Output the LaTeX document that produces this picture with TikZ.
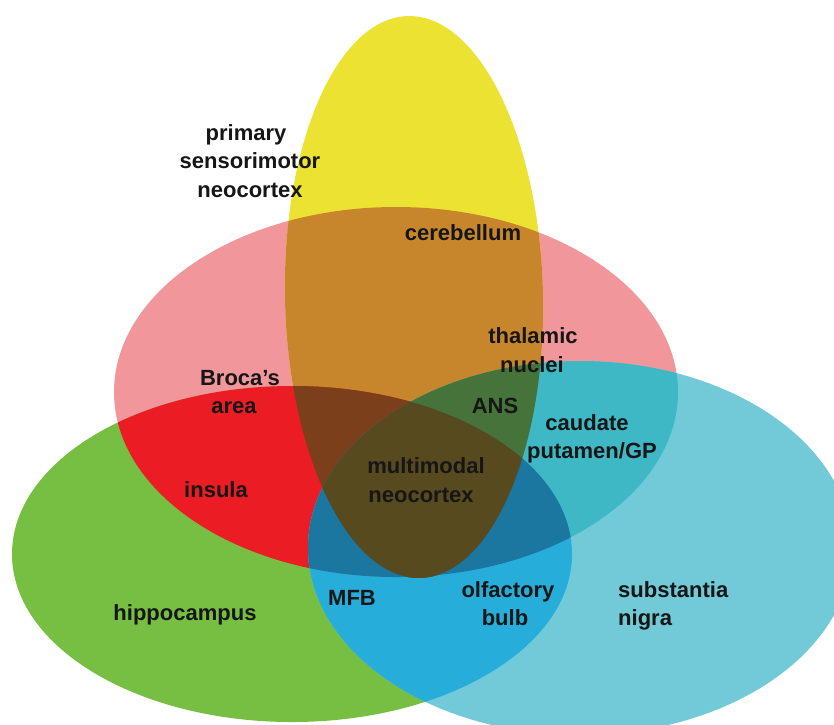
\documentclass[tikz,border=0pt]{standalone}
\usepackage{fontspec}
\setmainfont{Liberation Sans}
\definecolor{cY}{HTML}{ECE232}
\definecolor{cP}{HTML}{F1979C}
\definecolor{cG}{HTML}{77BF43}
\definecolor{cC}{HTML}{72CAD8}
\definecolor{cYP}{HTML}{C8862C}
\definecolor{cPG}{HTML}{EC1C24}
\definecolor{cPC}{HTML}{3FB8C6}
\definecolor{cGC}{HTML}{27ADDA}
\definecolor{cYPG}{HTML}{7C3F1B}
\definecolor{cYPC}{HTML}{46733A}
\definecolor{cPGC}{HTML}{1B76A0}
\definecolor{cAll}{HTML}{574A1E}
\definecolor{txt}{HTML}{161616}
\begin{document}
\begin{tikzpicture}[x=1pt,y=-1pt,
  yrot/.style={rotate around={1.2:(414,297)}},
  lbl/.style={font=\fontsize{22}{26}\selectfont\bfseries, text=txt, inner sep=0pt, anchor=base},
  lblw/.style={lbl, anchor=base west}]
\clip (0,0) rectangle (834,724);
\fill[white] (0,0) rectangle (834,724);
% single sets
\fill[cP] (396,392) ellipse [x radius=282, y radius=185];
\fill[cG] (292,554) ellipse [x radius=280, y radius=168];
\fill[cC] (580,548) ellipse [x radius=272, y radius=187];
\fill[cY, yrot] (414,297) ellipse [x radius=129, y radius=281];
% yellow & pink
\begin{scope}
  \clip (396,392) ellipse [x radius=282, y radius=185];
  \fill[cYP, yrot] (414,297) ellipse [x radius=129, y radius=281];
\end{scope}
% pink & green
\begin{scope}
  \clip (396,392) ellipse [x radius=282, y radius=185];
  \fill[cPG] (292,554) ellipse [x radius=280, y radius=168];
\end{scope}
% pink & cyan
\begin{scope}
  \clip (396,392) ellipse [x radius=282, y radius=185];
  \fill[cPC] (580,548) ellipse [x radius=272, y radius=187];
\end{scope}
% green & cyan
\begin{scope}
  \clip (292,554) ellipse [x radius=280, y radius=168];
  \fill[cGC] (580,548) ellipse [x radius=272, y radius=187];
\end{scope}
% yellow & green
\begin{scope}
  \clip (292,554) ellipse [x radius=280, y radius=168];
  \fill[cYPG, yrot] (414,297) ellipse [x radius=129, y radius=281];
\end{scope}
% yellow & cyan
\begin{scope}
  \clip (580,548) ellipse [x radius=272, y radius=187];
  \fill[cYPC, yrot] (414,297) ellipse [x radius=129, y radius=281];
\end{scope}
% pink & green & cyan
\begin{scope}
  \clip (396,392) ellipse [x radius=282, y radius=185];
  \clip (292,554) ellipse [x radius=280, y radius=168];
  \fill[cPGC] (580,548) ellipse [x radius=272, y radius=187];
\end{scope}
% all four
\begin{scope}
  \clip (292,554) ellipse [x radius=280, y radius=168];
  \clip (580,548) ellipse [x radius=272, y radius=187];
  \fill[cAll, yrot] (414,297) ellipse [x radius=129, y radius=281];
\end{scope}
% labels
\node[lbl] (prim1) at (246,140) {primary};
\node[lbl] (prim2) at (250,168.5) {sensorimotor};
\node[lbl] (prim3) at (250,197) {neocortex};
\node[lbl] (cer) at (463,240) {cerebellum};
\node[lbl] (thal1) at (533,343) {thalamic};
\node[lbl] (thal2) at (532,372) {nuclei};
\node[lbl] (bro1) at (240,385) {Broca’s};
\node[lbl] (bro2) at (234,413) {area};
\node[lbl] (ans) at (495,413) {ANS};
\node[lbl] (cau1) at (587,430) {caudate};
\node[lbl] (cau2) at (592,458) {putamen/GP};
\node[lbl] (ins) at (216,497) {insula};
\node[lbl] (mm1) at (426,473) {multimodal};
\node[lbl] (mm2) at (421,502) {neocortex};
\node[lbl] (hip) at (185,620) {hippocampus};
\node[lbl] (mfb) at (352,605) {MFB};
\node[lbl] (olf1) at (508,597) {olfactory};
\node[lbl] (olf2) at (505,625) {bulb};
\node[lblw] (sub1) at (618,597) {substantia};
\node[lblw] (sub2) at (618,625) {nigra};
\end{tikzpicture}
\end{document}
